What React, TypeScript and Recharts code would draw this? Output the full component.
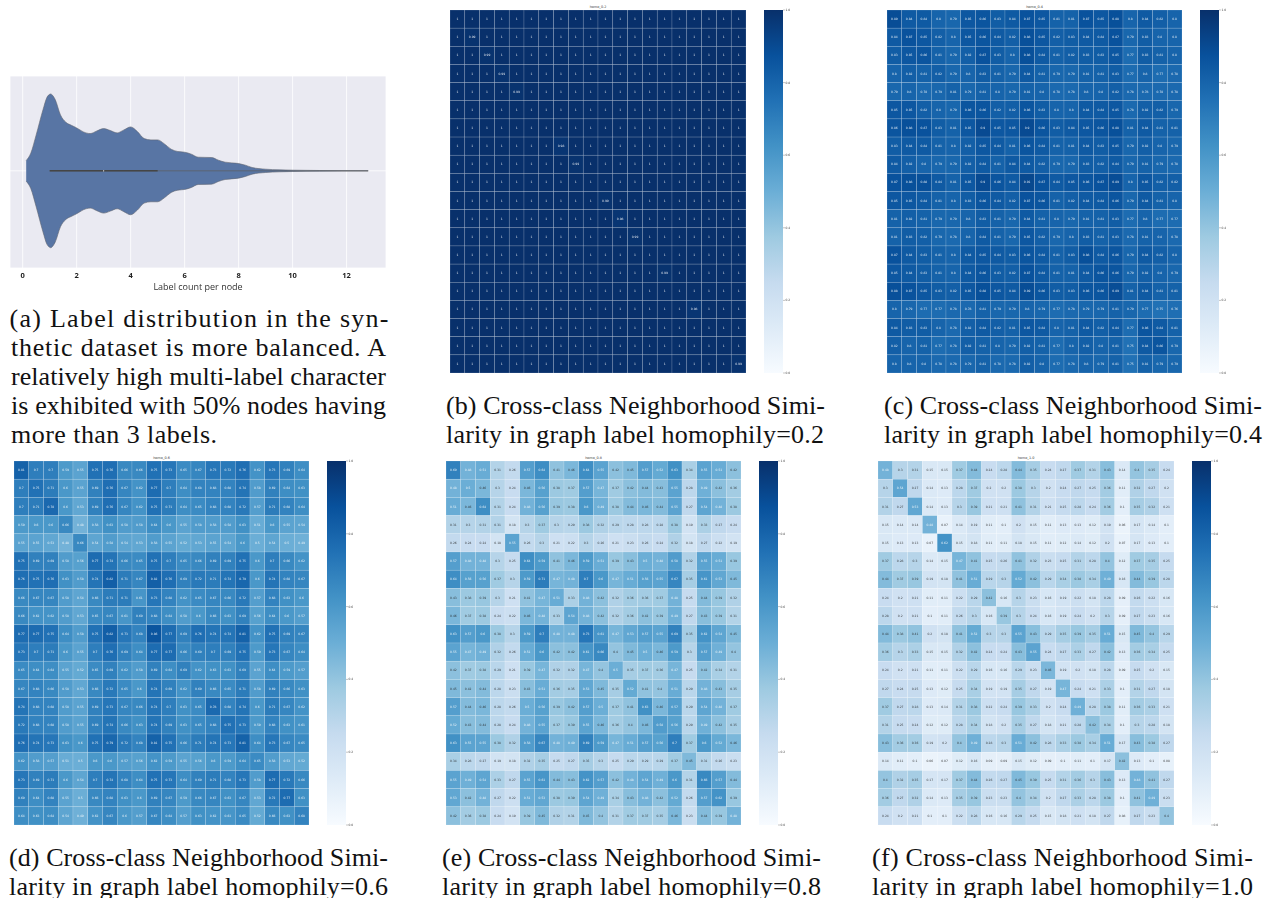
import React from "react";
import {
  Area,
  Bar,
  BarChart,
  CartesianGrid,
  ComposedChart,
  ReferenceDot,
  ReferenceLine,
  Scatter,
  ScatterChart,
  XAxis,
  YAxis,
} from "recharts";

const violinX = [0.13,0.3,0.5,0.75,0.9,1,1.03,1.2,1.4,1.6,1.8,2,2.25,2.5,2.75,3,3.25,3.5,3.75,4,4.25,4.5,4.75,5,5.25,5.5,5.75,6,6.25,6.5,7,7.25,7.5,8,8.25,8.5,9,9.5,10,11,12.8];
const violinWidth = [31,53,108,183,221,230,231,215,168,146,137,129,117,112,120,127,121,114,123,132,118,97,93,93,81,65,58,56,50,41,40,32,26,22,17,10,5,3,2,1,0.4];
const violinTicks = [0,2,4,6,8,10,12];

const homo02 = [
[1,1,1,1,1,1,1,1,1,1,1,1,1,1,1,1,1,1,1,1],
[1,0.99,1,1,1,1,1,1,1,1,1,1,1,1,1,1,1,1,1,1],
[1,1,0.99,1,1,1,1,1,1,1,1,1,1,1,1,1,1,1,1,1],
[1,1,1,0.99,1,1,1,1,1,1,1,1,1,1,1,1,1,1,1,1],
[1,1,1,1,0.99,1,1,1,1,1,1,1,1,1,1,1,1,1,1,1],
[1,1,1,1,1,1,1,1,1,1,1,1,1,1,1,1,1,1,1,1],
[1,1,1,1,1,1,1,1,1,1,1,1,1,1,1,1,1,1,1,1],
[1,1,1,1,1,1,1,0.98,1,1,1,1,1,1,1,1,1,1,1,1],
[1,1,1,1,1,1,1,1,0.99,1,1,1,1,1,1,1,1,1,1,1],
[1,1,1,1,1,1,1,1,1,1,1,1,1,1,1,1,1,1,1,1],
[1,1,1,1,1,1,1,1,1,1,0.99,1,1,1,1,1,1,1,1,1],
[1,1,1,1,1,1,1,1,1,1,1,0.98,1,1,1,1,1,1,1,1],
[1,1,1,1,1,1,1,1,1,1,1,1,0.99,1,1,1,1,1,1,1],
[1,1,1,1,1,1,1,1,1,1,1,1,1,1,1,1,1,1,1,1],
[1,1,1,1,1,1,1,1,1,1,1,1,1,1,0.99,1,1,1,1,1],
[1,1,1,1,1,1,1,1,1,1,1,1,1,1,1,1,1,1,1,1],
[1,1,1,1,1,1,1,1,1,1,1,1,1,1,1,1,0.98,1,1,1],
[1,1,1,1,1,1,1,1,1,1,1,1,1,1,1,1,1,1,1,1],
[1,1,1,1,1,1,1,1,1,1,1,1,1,1,1,1,1,1,1,1],
[1,1,1,1,1,1,1,1,1,1,1,1,1,1,1,1,1,1,1,0.99],
];

const homo04 = [
[0.89,0.84,0.84,0.8,0.79,0.85,0.86,0.83,0.84,0.87,0.85,0.81,0.81,0.87,0.85,0.88,0.8,0.84,0.82,0.8],
[0.84,0.87,0.85,0.82,0.8,0.85,0.86,0.84,0.82,0.88,0.85,0.82,0.83,0.84,0.84,0.87,0.79,0.83,0.8,0.8],
[0.83,0.85,0.86,0.81,0.79,0.82,0.87,0.83,0.8,0.88,0.84,0.81,0.82,0.83,0.83,0.85,0.77,0.83,0.81,0.8],
[0.8,0.82,0.81,0.82,0.79,0.8,0.83,0.81,0.79,0.84,0.81,0.79,0.79,0.81,0.81,0.83,0.77,0.8,0.77,0.78],
[0.79,0.8,0.78,0.79,0.81,0.79,0.81,0.8,0.79,0.81,0.8,0.78,0.78,0.8,0.8,0.82,0.78,0.78,0.78,0.78],
[0.85,0.85,0.82,0.8,0.79,0.86,0.86,0.82,0.82,0.86,0.83,0.8,0.8,0.84,0.84,0.85,0.78,0.82,0.82,0.79],
[0.86,0.88,0.87,0.83,0.81,0.85,0.9,0.85,0.85,0.9,0.86,0.83,0.84,0.85,0.86,0.88,0.81,0.84,0.81,0.81],
[0.83,0.84,0.84,0.81,0.8,0.82,0.85,0.84,0.81,0.86,0.84,0.81,0.81,0.84,0.83,0.85,0.79,0.82,0.8,0.79],
[0.84,0.82,0.8,0.79,0.79,0.82,0.84,0.81,0.84,0.84,0.82,0.79,0.79,0.83,0.82,0.84,0.79,0.81,0.79,0.78],
[0.87,0.88,0.88,0.84,0.81,0.85,0.9,0.86,0.84,0.91,0.87,0.84,0.85,0.86,0.87,0.89,0.8,0.85,0.82,0.82],
[0.85,0.85,0.84,0.81,0.8,0.83,0.86,0.84,0.82,0.87,0.86,0.81,0.82,0.84,0.84,0.86,0.79,0.84,0.81,0.8],
[0.81,0.82,0.81,0.79,0.79,0.8,0.83,0.81,0.79,0.84,0.81,0.8,0.79,0.81,0.81,0.83,0.77,0.8,0.77,0.77],
[0.81,0.83,0.82,0.79,0.78,0.8,0.84,0.81,0.79,0.85,0.82,0.79,0.8,0.83,0.81,0.83,0.78,0.81,0.8,0.78],
[0.87,0.84,0.83,0.81,0.8,0.84,0.85,0.84,0.83,0.86,0.84,0.81,0.83,0.88,0.84,0.86,0.79,0.84,0.82,0.8],
[0.85,0.84,0.83,0.81,0.8,0.84,0.86,0.83,0.82,0.87,0.84,0.81,0.81,0.84,0.86,0.86,0.79,0.82,0.8,0.79],
[0.88,0.87,0.85,0.83,0.82,0.85,0.88,0.85,0.84,0.89,0.86,0.83,0.83,0.86,0.86,0.89,0.81,0.84,0.81,0.81],
[0.8,0.79,0.77,0.77,0.78,0.78,0.81,0.79,0.79,0.8,0.79,0.77,0.78,0.79,0.79,0.81,0.79,0.77,0.75,0.76],
[0.84,0.83,0.83,0.8,0.78,0.82,0.84,0.82,0.81,0.85,0.84,0.8,0.81,0.84,0.82,0.84,0.77,0.86,0.84,0.81],
[0.82,0.8,0.81,0.77,0.78,0.82,0.81,0.8,0.79,0.82,0.81,0.77,0.8,0.82,0.8,0.81,0.75,0.84,0.86,0.79],
[0.8,0.8,0.8,0.78,0.78,0.79,0.81,0.78,0.78,0.82,0.8,0.77,0.78,0.8,0.79,0.81,0.75,0.81,0.79,0.79],
];

const homo06 = [
[0.81,0.7,0.7,0.59,0.55,0.75,0.76,0.66,0.66,0.75,0.73,0.65,0.67,0.73,0.72,0.76,0.62,0.73,0.69,0.64],
[0.7,0.75,0.71,0.6,0.55,0.69,0.76,0.67,0.62,0.77,0.7,0.64,0.68,0.68,0.68,0.74,0.58,0.69,0.64,0.63],
[0.7,0.71,0.78,0.6,0.53,0.69,0.76,0.67,0.62,0.75,0.71,0.64,0.65,0.68,0.68,0.72,0.57,0.71,0.68,0.64],
[0.59,0.6,0.6,0.66,0.48,0.58,0.63,0.58,0.58,0.64,0.6,0.55,0.58,0.58,0.58,0.63,0.51,0.6,0.55,0.54],
[0.55,0.55,0.53,0.48,0.66,0.54,0.58,0.54,0.53,0.58,0.55,0.52,0.53,0.55,0.54,0.6,0.5,0.54,0.5,0.49],
[0.75,0.69,0.69,0.58,0.56,0.77,0.74,0.66,0.65,0.75,0.7,0.65,0.66,0.69,0.69,0.75,0.6,0.7,0.66,0.62],
[0.76,0.75,0.76,0.63,0.58,0.74,0.82,0.71,0.67,0.82,0.76,0.69,0.72,0.71,0.74,0.79,0.6,0.74,0.68,0.67],
[0.66,0.67,0.67,0.58,0.54,0.66,0.71,0.71,0.61,0.73,0.68,0.62,0.65,0.67,0.66,0.72,0.57,0.68,0.63,0.6],
[0.66,0.62,0.62,0.58,0.53,0.65,0.67,0.61,0.69,0.68,0.64,0.58,0.6,0.66,0.63,0.69,0.56,0.64,0.6,0.57],
[0.77,0.77,0.75,0.64,0.58,0.75,0.82,0.73,0.68,0.86,0.77,0.69,0.76,0.74,0.74,0.81,0.62,0.75,0.69,0.67],
[0.73,0.7,0.71,0.6,0.55,0.7,0.76,0.69,0.64,0.77,0.77,0.66,0.69,0.7,0.69,0.75,0.59,0.73,0.67,0.64],
[0.65,0.64,0.64,0.55,0.52,0.65,0.69,0.62,0.58,0.69,0.64,0.69,0.62,0.63,0.63,0.69,0.55,0.64,0.59,0.57],
[0.67,0.68,0.66,0.58,0.53,0.66,0.72,0.65,0.6,0.74,0.69,0.62,0.69,0.66,0.65,0.71,0.58,0.69,0.66,0.63],
[0.74,0.68,0.68,0.58,0.55,0.69,0.73,0.67,0.66,0.74,0.7,0.63,0.65,0.78,0.68,0.74,0.6,0.71,0.67,0.62],
[0.72,0.68,0.68,0.58,0.55,0.69,0.74,0.66,0.63,0.74,0.69,0.63,0.65,0.68,0.75,0.73,0.59,0.68,0.63,0.61],
[0.76,0.74,0.73,0.63,0.6,0.75,0.79,0.72,0.68,0.81,0.75,0.66,0.71,0.74,0.73,0.81,0.64,0.73,0.67,0.65],
[0.62,0.58,0.57,0.51,0.5,0.6,0.6,0.57,0.56,0.62,0.59,0.55,0.56,0.6,0.59,0.64,0.65,0.58,0.53,0.52],
[0.73,0.69,0.71,0.6,0.54,0.7,0.74,0.68,0.64,0.75,0.73,0.64,0.69,0.71,0.68,0.73,0.58,0.77,0.72,0.66],
[0.69,0.64,0.68,0.55,0.5,0.66,0.68,0.63,0.6,0.69,0.67,0.59,0.66,0.67,0.63,0.67,0.53,0.72,0.77,0.63],
[0.64,0.63,0.64,0.54,0.49,0.62,0.67,0.6,0.57,0.67,0.64,0.57,0.63,0.62,0.61,0.65,0.52,0.66,0.63,0.68],
];

const homo08 = [
[0.69,0.48,0.51,0.31,0.26,0.57,0.64,0.41,0.46,0.64,0.55,0.42,0.45,0.57,0.52,0.63,0.34,0.55,0.51,0.42],
[0.48,0.5,0.46,0.3,0.24,0.46,0.56,0.38,0.37,0.57,0.47,0.37,0.42,0.44,0.43,0.55,0.28,0.49,0.42,0.36],
[0.51,0.46,0.64,0.31,0.24,0.48,0.56,0.39,0.38,0.6,0.49,0.38,0.44,0.46,0.44,0.55,0.27,0.54,0.48,0.38],
[0.31,0.3,0.31,0.31,0.18,0.3,0.37,0.3,0.29,0.38,0.32,0.29,0.28,0.28,0.28,0.38,0.19,0.33,0.27,0.24],
[0.26,0.24,0.24,0.18,0.55,0.26,0.3,0.21,0.22,0.3,0.26,0.21,0.23,0.26,0.24,0.32,0.18,0.27,0.22,0.19],
[0.57,0.48,0.48,0.3,0.25,0.64,0.59,0.41,0.46,0.59,0.51,0.39,0.43,0.5,0.48,0.58,0.32,0.55,0.51,0.39],
[0.64,0.56,0.56,0.37,0.3,0.59,0.71,0.47,0.48,0.7,0.6,0.47,0.51,0.56,0.55,0.67,0.35,0.61,0.53,0.45],
[0.43,0.38,0.39,0.3,0.21,0.41,0.47,0.51,0.33,0.48,0.42,0.32,0.36,0.36,0.37,0.48,0.25,0.44,0.39,0.32],
[0.46,0.37,0.38,0.24,0.22,0.46,0.48,0.33,0.54,0.48,0.42,0.32,0.36,0.42,0.39,0.49,0.27,0.43,0.39,0.31],
[0.63,0.57,0.6,0.38,0.3,0.59,0.7,0.48,0.48,0.73,0.61,0.47,0.53,0.57,0.55,0.69,0.35,0.62,0.54,0.45],
[0.55,0.47,0.49,0.32,0.26,0.51,0.6,0.42,0.42,0.61,0.66,0.4,0.45,0.5,0.46,0.59,0.3,0.57,0.49,0.4],
[0.42,0.37,0.38,0.29,0.21,0.39,0.47,0.32,0.32,0.47,0.4,0.5,0.35,0.37,0.36,0.47,0.25,0.42,0.34,0.31],
[0.45,0.42,0.44,0.28,0.23,0.43,0.51,0.36,0.35,0.53,0.45,0.35,0.52,0.41,0.4,0.51,0.29,0.48,0.43,0.35],
[0.57,0.44,0.46,0.28,0.26,0.5,0.56,0.39,0.42,0.57,0.5,0.37,0.41,0.63,0.46,0.57,0.29,0.54,0.48,0.37],
[0.52,0.43,0.44,0.28,0.24,0.48,0.55,0.37,0.39,0.55,0.46,0.36,0.4,0.46,0.58,0.56,0.29,0.49,0.42,0.35],
[0.63,0.55,0.55,0.38,0.32,0.58,0.67,0.48,0.49,0.69,0.59,0.47,0.51,0.57,0.56,0.7,0.37,0.6,0.52,0.46],
[0.34,0.28,0.27,0.19,0.18,0.32,0.35,0.25,0.27,0.35,0.3,0.25,0.29,0.29,0.29,0.37,0.45,0.31,0.26,0.23],
[0.55,0.49,0.54,0.33,0.27,0.55,0.61,0.44,0.43,0.62,0.57,0.42,0.48,0.54,0.49,0.6,0.31,0.66,0.57,0.44],
[0.53,0.42,0.48,0.27,0.22,0.51,0.53,0.38,0.39,0.54,0.49,0.34,0.43,0.48,0.42,0.52,0.26,0.57,0.62,0.39],
[0.42,0.36,0.38,0.24,0.19,0.39,0.45,0.32,0.31,0.45,0.4,0.31,0.37,0.37,0.35,0.46,0.23,0.44,0.39,0.48],
];

const homo10 = [
[0.48,0.3,0.31,0.15,0.15,0.37,0.44,0.24,0.28,0.44,0.35,0.24,0.27,0.37,0.31,0.43,0.14,0.4,0.35,0.24],
[0.3,0.54,0.27,0.14,0.13,0.28,0.37,0.2,0.2,0.38,0.3,0.2,0.24,0.27,0.25,0.36,0.11,0.32,0.27,0.2],
[0.31,0.27,0.53,0.14,0.13,0.3,0.39,0.21,0.21,0.41,0.31,0.21,0.25,0.28,0.24,0.36,0.1,0.35,0.32,0.21],
[0.15,0.14,0.14,0.48,0.07,0.14,0.19,0.11,0.1,0.2,0.15,0.11,0.13,0.13,0.12,0.19,0.06,0.17,0.14,0.1],
[0.15,0.13,0.13,0.07,0.62,0.15,0.18,0.11,0.11,0.18,0.15,0.11,0.12,0.14,0.12,0.2,0.07,0.17,0.13,0.1],
[0.37,0.28,0.3,0.14,0.15,0.47,0.41,0.25,0.26,0.41,0.32,0.23,0.25,0.31,0.28,0.4,0.12,0.37,0.35,0.25],
[0.44,0.37,0.39,0.19,0.18,0.41,0.51,0.29,0.3,0.52,0.42,0.29,0.34,0.38,0.34,0.49,0.16,0.44,0.39,0.28],
[0.24,0.2,0.21,0.11,0.11,0.22,0.29,0.42,0.16,0.3,0.23,0.16,0.19,0.22,0.18,0.28,0.09,0.26,0.22,0.16],
[0.28,0.2,0.21,0.1,0.11,0.26,0.3,0.16,0.39,0.3,0.24,0.16,0.19,0.24,0.2,0.3,0.09,0.27,0.23,0.16],
[0.44,0.38,0.41,0.2,0.18,0.41,0.52,0.3,0.3,0.55,0.43,0.29,0.35,0.39,0.35,0.51,0.15,0.45,0.4,0.29],
[0.36,0.3,0.33,0.15,0.15,0.32,0.42,0.24,0.24,0.43,0.55,0.24,0.27,0.33,0.27,0.42,0.13,0.36,0.34,0.25],
[0.24,0.2,0.21,0.11,0.11,0.22,0.29,0.16,0.16,0.29,0.23,0.46,0.19,0.2,0.18,0.28,0.09,0.25,0.2,0.15],
[0.27,0.24,0.25,0.13,0.12,0.25,0.34,0.19,0.19,0.35,0.27,0.19,0.47,0.24,0.21,0.33,0.1,0.31,0.27,0.18],
[0.37,0.27,0.28,0.13,0.14,0.31,0.38,0.22,0.24,0.39,0.33,0.2,0.24,0.49,0.28,0.38,0.11,0.36,0.33,0.21],
[0.31,0.25,0.24,0.12,0.12,0.28,0.34,0.18,0.2,0.35,0.27,0.18,0.21,0.28,0.42,0.34,0.1,0.3,0.28,0.18],
[0.43,0.36,0.36,0.19,0.2,0.4,0.49,0.28,0.3,0.51,0.42,0.28,0.33,0.38,0.34,0.51,0.17,0.43,0.38,0.27],
[0.14,0.11,0.1,0.06,0.07,0.12,0.16,0.09,0.09,0.15,0.12,0.09,0.1,0.11,0.1,0.17,0.42,0.13,0.1,0.08],
[0.4,0.32,0.35,0.17,0.17,0.37,0.44,0.26,0.27,0.45,0.39,0.25,0.31,0.36,0.3,0.43,0.13,0.48,0.41,0.27],
[0.36,0.27,0.32,0.14,0.13,0.35,0.39,0.23,0.23,0.4,0.34,0.2,0.27,0.33,0.28,0.38,0.1,0.41,0.49,0.23],
[0.24,0.2,0.21,0.1,0.1,0.22,0.28,0.16,0.16,0.29,0.25,0.15,0.18,0.21,0.18,0.27,0.08,0.27,0.23,0.4],
];

const colorbarTicks = [0, 0.2, 0.4, 0.6, 0.8, 1];
const blues = ["#f7fbff","#deebf7","#c6dbef","#9ecae1","#6baed6","#4292c6","#2171b5","#08519c","#08306b"];

const serif = "'Liberation Serif', serif";
const sans = "'DejaVu Sans', sans-serif";

function hexToRgb(h: string) {
  return [1, 3, 5].map((i) => parseInt(h.slice(i, i + 2), 16));
}
function blueColor(v: number) {
  const p = Math.max(0, Math.min(1, v)) * (blues.length - 1);
  const i = Math.min(blues.length - 2, Math.floor(p));
  const f = p - i;
  const a = hexToRgb(blues[i]);
  const b = hexToRgb(blues[i + 1]);
  const c = a.map((x, k) => Math.round(x + (b[k] - x) * f));
  return `rgb(${c[0]},${c[1]},${c[2]})`;
}

type Panel = { title: string; rows: number[][]; x: number; y: number; w: number; h: number; barX: number; titleY: number };
const panels: Panel[] = [
  { title: "homo_0.2", rows: homo02, x: 450, y: 10, w: 296, h: 363, barX: 764, titleY: 7.5 },
  { title: "homo_0.4", rows: homo04, x: 887, y: 10, w: 295, h: 363, barX: 1200, titleY: 7.5 },
  { title: "homo_0.6", rows: homo06, x: 14, y: 461, w: 295, h: 364, barX: 327, titleY: 458.5 },
  { title: "homo_0.8", rows: homo08, x: 446, y: 461, w: 295, h: 364, barX: 759, titleY: 458.5 },
  { title: "homo_1.0", rows: homo10, x: 878, y: 461, w: 296, h: 364, barX: 1192, titleY: 458.5 },
];

type Cap = { text: string; x: number; y: number; w: number };
const captions: Cap[] = [
  { text: "(a) Label distribution in the syn-", x: 9.5, y: 327, w: 379 },
  { text: "thetic dataset is more balanced. A", x: 11, y: 356, w: 375 },
  { text: "relatively high multi-label character", x: 11, y: 385, w: 375 },
  { text: "is exhibited with 50% nodes having", x: 11, y: 414, w: 375 },
  { text: "more than 3 labels.", x: 11, y: 443, w: 206 },
  { text: "(b) Cross-class Neighborhood Simi-", x: 446, y: 414, w: 379 },
  { text: "larity in graph label homophily=0.2", x: 446, y: 443, w: 378 },
  { text: "(c) Cross-class Neighborhood Simi-", x: 884, y: 414, w: 378 },
  { text: "larity in graph label homophily=0.4", x: 884, y: 443, w: 378 },
  { text: "(d) Cross-class Neighborhood Simi-", x: 9, y: 866, w: 379 },
  { text: "larity in graph label homophily=0.6", x: 9, y: 895, w: 379 },
  { text: "(e) Cross-class Neighborhood Simi-", x: 442, y: 866, w: 379 },
  { text: "larity in graph label homophily=0.8", x: 442, y: 895, w: 379 },
  { text: "(f) Cross-class Neighborhood Simi-", x: 872, y: 866, w: 381 },
  { text: "larity in graph label homophily=1.0", x: 872, y: 895, w: 381 },
];

const violinData = violinX.map((x, i) => ({ x, band: [-violinWidth[i], violinWidth[i]] }));
const soft = "blur(0.35px)";

function Violin() {
  return (
    <div style={{ position: "absolute", left: 10, top: 76, filter: soft }}>
      <ComposedChart width={376} height={222} data={violinData} margin={{ top: 0, right: 0, bottom: 0, left: 0 }}>
        <CartesianGrid fill="#EAEAF2" stroke="#ffffff" strokeWidth={0.8} />
        <XAxis
          type="number"
          dataKey="x"
          domain={[-0.47, 13.46]}
          ticks={violinTicks}
          axisLine={false}
          tickLine={false}
          height={30}
          interval={0}
          tickSize={5}
          tickMargin={0}
          tick={{ fontSize: 7.5, fontFamily: "'Open Sans', sans-serif", fontWeight: 700, fill: "#222" }}
          label={{ value: "Label count per node", position: "insideBottom", offset: 8.5, fontSize: 9, fontFamily: "'Open Sans', sans-serif", fill: "#333" }}
        />
        <YAxis hide type="number" domain={[-292, 285]} ticks={[0]} />
        <Area
          dataKey="band"
          type="monotone"
          fill="#5875A4"
          fillOpacity={1}
          stroke="#5f6570"
          strokeWidth={0.6}
          isAnimationActive={false}
          dot={false}
          activeDot={false}
        />
        <ReferenceLine segment={[{ x: 1, y: 0 }, { x: 12.8, y: 0 }]} stroke="#5c5c5c" strokeWidth={0.7} />
        <ReferenceLine segment={[{ x: 1, y: 0 }, { x: 5, y: 0 }]} stroke="#454545" strokeWidth={1.5} />
        <ReferenceDot x={3} y={0} r={0.6} fill="#ffffff" stroke="none" />
      </ComposedChart>
    </div>
  );
}

function Heatmap({ panel }: { panel: Panel }) {
  const cw = panel.w / 20;
  const ch = panel.h / 20;
  const cells = panel.rows.flatMap((row, r) => row.map((v, c) => ({ col: c + 0.5, row: r + 0.5, v })));
  const shape = (props: any) => {
    const { cx, cy, payload } = props;
    return (
      <g>
        <rect x={cx - cw / 2} y={cy - ch / 2} width={cw} height={ch} fill={blueColor(payload.v)} stroke="#ffffff" strokeOpacity={0.3} strokeWidth={0.5} />
        <text x={cx} y={cy + 1} textAnchor="middle" fontSize={3} fontFamily={sans} fillOpacity={0.85} fill={payload.v >= 0.47 ? "#ffffff" : "#262626"}>
          {String(payload.v)}
        </text>
      </g>
    );
  };
  return (
    <div style={{ position: "absolute", left: panel.x, top: panel.y, filter: soft }}>
      <ScatterChart width={panel.w} height={panel.h} margin={{ top: 0, right: 0, bottom: 0, left: 0 }}>
        <XAxis hide type="number" dataKey="col" domain={[0, 20]} />
        <YAxis hide type="number" dataKey="row" domain={[0, 20]} reversed />
        <Scatter data={cells} shape={shape} isAnimationActive={false} />
      </ScatterChart>
    </div>
  );
}

function Colorbar({ panel }: { panel: Panel }) {
  const id = "cb" + panel.title.replace(/\W/g, "");
  return (
    <div style={{ position: "absolute", left: panel.barX, top: panel.y - 4, filter: soft }}>
      <BarChart
        width={32}
        height={panel.h + 8}
        data={[{ name: panel.title, value: 1 }]}
        margin={{ top: 4, right: 0, bottom: 4, left: 0 }}
        barCategoryGap={0}
      >
        <defs>
          <linearGradient id={id} x1="0" y1="1" x2="0" y2="0">
            {blues.map((c, i) => (
              <stop key={c} offset={i / (blues.length - 1)} stopColor={c} />
            ))}
          </linearGradient>
        </defs>
        <XAxis hide dataKey="name" />
        <YAxis
          orientation="right"
          type="number"
          domain={[0, 1]}
          ticks={colorbarTicks}
          interval={0}
          width={13}
          axisLine={false}
          tickSize={2}
          tickMargin={0.5}
          tickLine={{ stroke: "#888", strokeWidth: 0.5 }}
          tick={{ fontSize: 3, fontFamily: sans, fill: "#444" }}
          tickFormatter={(v: number) => v.toFixed(1)}
        />
        <Bar dataKey="value" fill={`url(#${id})`} isAnimationActive={false} />
      </BarChart>
    </div>
  );
}

export default function App() {
  return (
    <div style={{ position: "absolute", left: 0, top: 0, width: 1267, height: 898, overflow: "hidden", background: "#fff" }}>
      <Violin />
      {panels.map((p) => (
        <React.Fragment key={p.title}>
          <Heatmap panel={p} />
          <Colorbar panel={p} />
        </React.Fragment>
      ))}
      <svg width={1267} height={898} style={{ position: "absolute", left: 0, top: 0, pointerEvents: "none" }}>
        {panels.map((p) => (
          <text key={p.title} x={p.x + p.w / 2} y={p.titleY} textAnchor="middle" fontSize={3.4} fontFamily={sans} fill="#333">
            {p.title}
          </text>
        ))}
        {captions.map((c) => (
          <text key={c.text} x={c.x} y={c.y} fontSize={26} fontFamily={serif} fill="#111" textLength={c.w} lengthAdjust="spacing">
            {c.text}
          </text>
        ))}
      </svg>
    </div>
  );
}
